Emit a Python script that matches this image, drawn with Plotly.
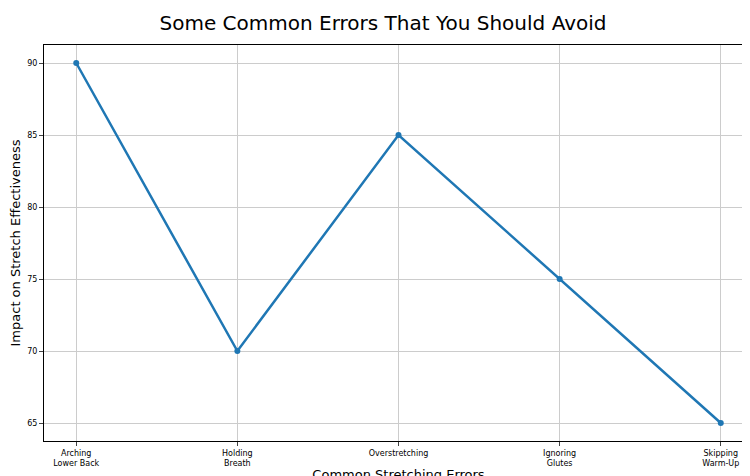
import plotly.graph_objects as go

categories = ["Arching<br>Lower Back", "Holding<br>Breath", "Overstretching", "Ignoring<br>Glutes", "Skipping<br>Warm-Up"]
impact = [90, 70, 85, 75, 65]

fig = go.Figure(go.Scatter(
    x=list(range(len(categories))), y=impact, mode="lines+markers",
    line=dict(color="#1f77b4", width=2.5), marker=dict(size=6, color="#1f77b4")))

fig.update_layout(
    width=750, height=476, paper_bgcolor="white", plot_bgcolor="white",
    margin=dict(l=36, r=5, t=37, b=43, autoexpand=False),
    font=dict(family="DejaVu Sans", color="black"),
    title=dict(text="Some Common Errors That You Should Avoid", x=0.5, xanchor="center",
               y=0.968, yanchor="middle", font=dict(size=20)),
    showlegend=False,
)
axis_common = dict(showline=True, linecolor="black", mirror=True, showgrid=True, automargin=False,
                   gridcolor="#cccccc", ticks="outside", ticklen=4, tickfont=dict(size=8), zeroline=False)
fig.update_xaxes(tickvals=list(range(len(categories))), ticktext=categories, range=[-0.2, 4.2],
                 title=dict(text="Common Stretching Errors", font=dict(size=13), standoff=2), **axis_common)
fig.update_yaxes(range=[63.75, 91.25], dtick=5,
                 title=dict(text="Impact on Stretch Effectiveness", font=dict(size=13), standoff=4), **axis_common)
fig.write_html("out.html")
